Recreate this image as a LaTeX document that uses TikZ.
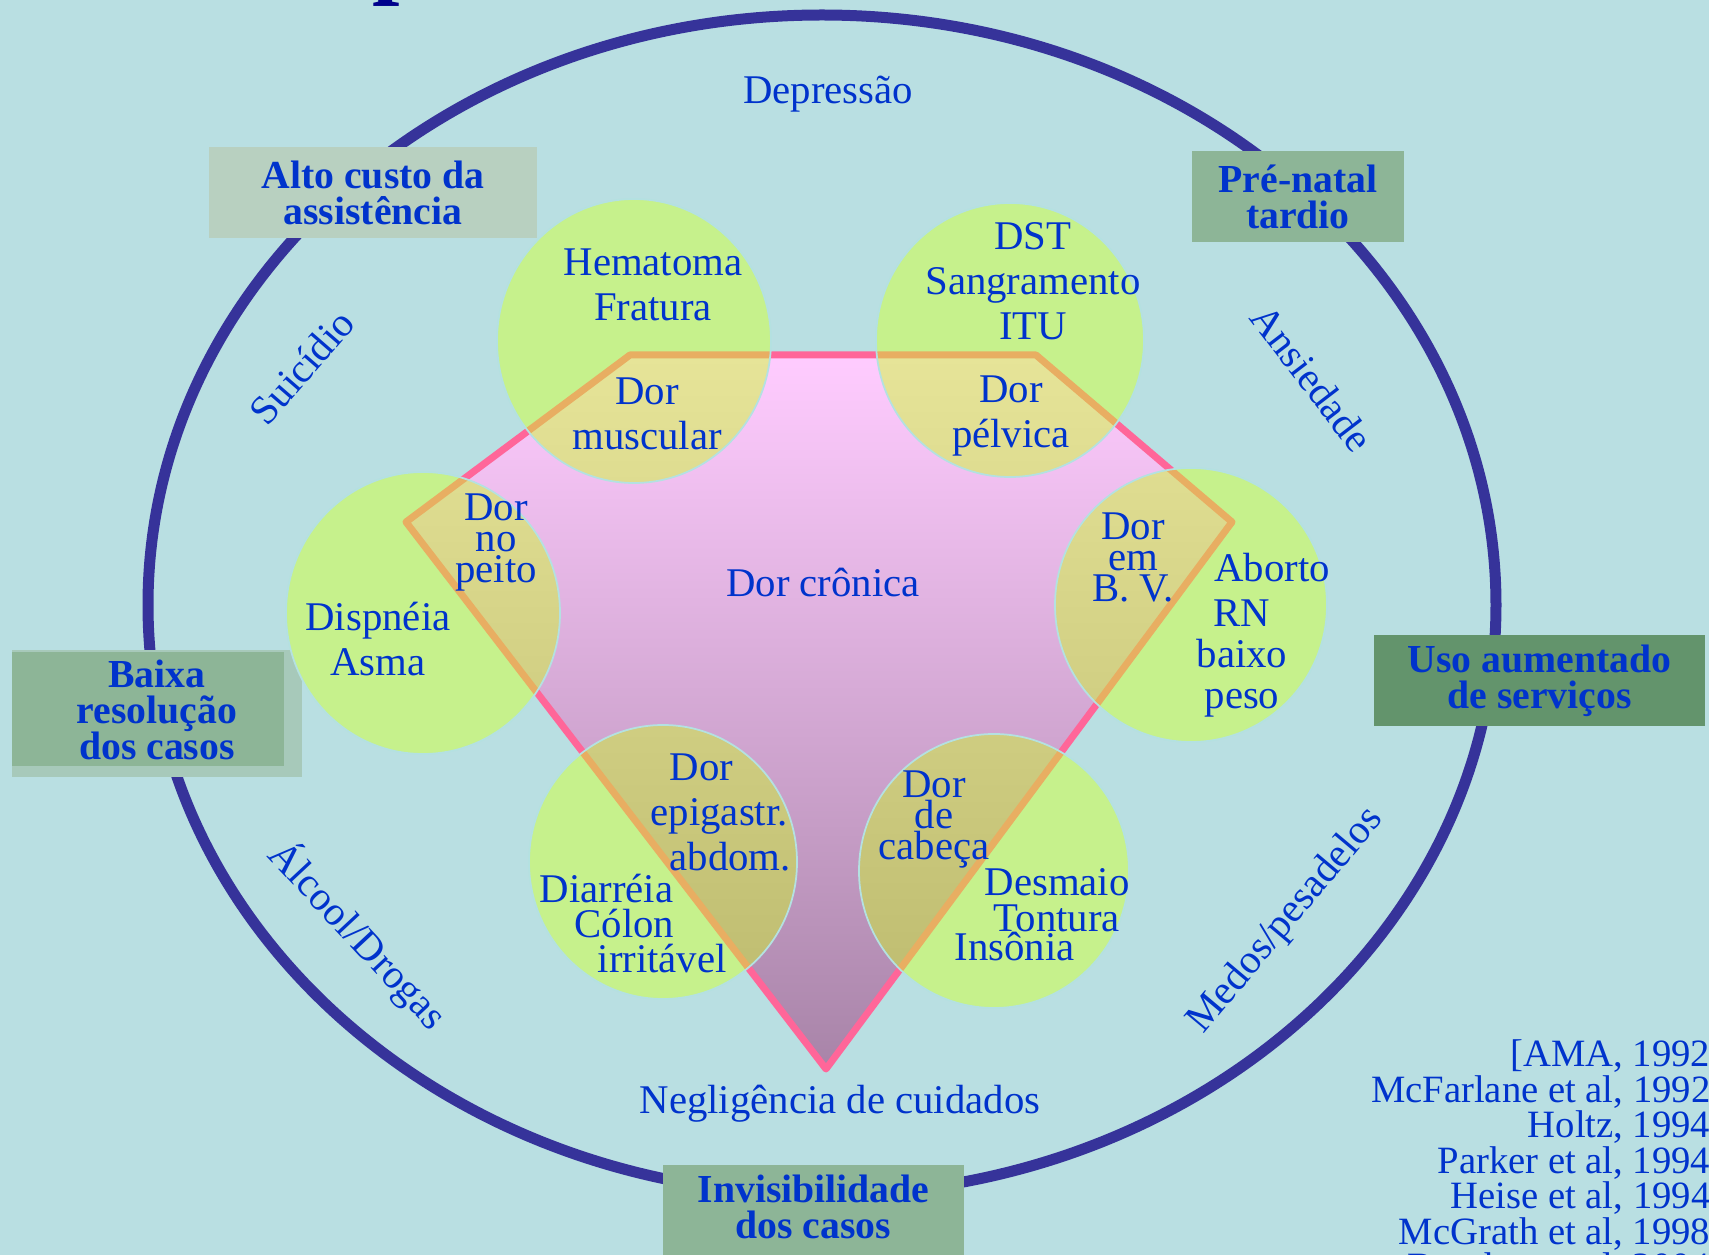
\documentclass[tikz,border=0pt]{standalone}
\usepackage{fontspec}
\setmainfont{Liberation Serif}
\definecolor{bgcyan}{RGB}{185,223,226}
\definecolor{ringblue}{RGB}{54,51,154}
\definecolor{txtblue}{RGB}{0,51,204}
\definecolor{titleblue}{RGB}{0,0,140}
\definecolor{pinktop}{RGB}{255,204,255}
\definecolor{pinkmid}{RGB}{225,182,225}
\definecolor{pinkbot}{RGB}{168,132,168}
\definecolor{pinkline}{RGB}{255,102,153}
\definecolor{leafgreen}{RGB}{198,241,140}
\definecolor{leafedge}{RGB}{180,225,225}
\definecolor{khakitop}{RGB}{230,228,152}
\definecolor{khakimid}{RGB}{212,210,135}
\definecolor{khakibot}{RGB}{186,184,108}
\definecolor{orangeline}{RGB}{232,174,98}
\definecolor{tagpale}{RGB}{184,208,192}
\definecolor{tagmid}{RGB}{141,181,151}
\definecolor{tagback}{RGB}{167,201,186}
\definecolor{tagdark}{RGB}{99,148,108}
\lineskiplimit=-10pt

\begin{document}
\begin{tikzpicture}[x=0.1mm,y=-0.1mm,
        lbl/.style={text=txtblue,inner sep=0pt,align=center,font=\fontsize{11.6}{12.8}\selectfont},
        tight/.style={font=\fontsize{11.6}{8.8}\selectfont},
        tag/.style={text=txtblue,inner sep=0pt,align=center,font=\bfseries\fontsize{11.3}{10.2}\selectfont},
        rim/.style={rotate=#1,text=txtblue,inner sep=0pt,font=\fontsize{11.6}{12.8}\selectfont}]
        \fill[bgcyan] (0,0) rectangle (1709,1255);
        \useasboundingbox (0,0) rectangle (1709,1255);
        \draw[ringblue,line width=1.1mm] (822,605) ellipse [x radius=674,y radius=590];
        % boxes on the ring
        \node[tag,fill=tagpale,minimum width=3.28cm,minimum height=0.91cm] (alto) at (373,192.5) {Alto custo da\\assistência};
        \node[tag,fill=tagmid,minimum width=2.12cm,minimum height=0.91cm] (prenatal) at (1298,196.5) {Pré-natal\\tardio};
        \fill[tagback] (12,650) rectangle (302,777);
        \fill[tagmid] (12,652) rectangle (284,766);
        \node[tag] (baixa) at (157,710) {Baixa\\resolução\\dos casos};
        \node[tag,fill=tagdark,minimum width=3.31cm,minimum height=0.91cm] (uso) at (1539.5,680.5) {Uso aumentado\\de serviços};
        \node[tag,fill=tagmid,anchor=north,minimum width=3.01cm,inner ysep=1mm] (invis) at (813.5,1164) {Invisibilidade\\dos casos\rule[-5mm]{0pt}{0pt}};
        % pentagon
        \coordinate (pa) at (630,355);
        \coordinate (pb) at (1036,355);
        \coordinate (pc) at (1232,522);
        \coordinate (pd) at (826,1069);
        \coordinate (pe) at (406,522);
        \shade[top color=pinktop,middle color=pinkmid,bottom color=pinkbot] (pa) -- (pb) -- (pc) -- (pd) -- (pe) -- cycle;
        \draw[pinkline,line width=0.7mm,line join=round] (pa) -- (pb) -- (pc) -- (pd) -- (pe) -- cycle;
        % circles
        \foreach \cx/\cy/\rx/\ry in {634/341/137/142,1010/340/134/137,423/613/137/141,1191/605/136/137,663/862/134/137,994/871/135/137}
            \fill[leafgreen] (\cx,\cy) ellipse [x radius=\rx,y radius=\ry];
        \begin{scope}
            \clip (634,341) ellipse [x radius=137,y radius=142]
                (1010,340) ellipse [x radius=134,y radius=137]
                (423,613) ellipse [x radius=137,y radius=141]
                (1191,605) ellipse [x radius=136,y radius=137]
                (663,862) ellipse [x radius=134,y radius=137]
                (994,871) ellipse [x radius=135,y radius=137];
            \shade[top color=khakitop,middle color=khakimid,bottom color=khakibot] (pa) -- (pb) -- (pc) -- (pd) -- (pe) -- cycle;
            \draw[orangeline,line width=0.7mm,line join=round] (pa) -- (pb) -- (pc) -- (pd) -- (pe) -- cycle;
        \end{scope}
        \foreach \cx/\cy/\rx/\ry in {634/341/137/142,1010/340/134/137,423/613/137/141,1191/605/136/137,663/862/134/137,994/871/135/137}
            \draw[leafedge,line width=0.5pt] (\cx,\cy) ellipse [x radius=\rx,y radius=\ry];
        % texts
        \node[lbl,anchor=base] (depressao) at (828,104) {Depressão};
        \node[lbl,anchor=north] (trauma) at (653,248) {Hematoma\\Fratura};
        \node[lbl,anchor=north] (dst) at (1033,222) {DST\\Sangramento\\ITU};
        \node[lbl,anchor=north] (muscular) at (647,377) {Dor\\muscular};
        \node[lbl,anchor=north] (pelvica) at (1011,375) {Dor\\pélvica};
        \node[lbl,tight,anchor=north] (peito) at (496,493) {Dor\\no\\peito};
        \node[lbl,anchor=north] (asma) at (378,601) {Dispnéia\\Asma};
        \node[lbl,tight,anchor=north] (bv) at (1133,512) {Dor\\em\\B. V.};
        \node[lbl,anchor=base] (aborto) at (1272,582) {Aborto};
        \node[lbl,anchor=north,font=\fontsize{11.6}{11.7}\selectfont] (rn) at (1242,599) {RN\\baixo\\peso};
        \node[lbl,anchor=base] (cronica) at (823,597) {Dor crônica};
        \node[lbl,anchor=north west,align=left] (epig) at (650,753) {\hspace*{1.9mm}Dor\\epigastr.\\\hspace*{1.9mm}abdom.};
        \node[lbl,anchor=north west,align=left,font=\fontsize{11.6}{10}\selectfont] (colon) at (539,873) {Diarréia\\\hspace*{3.5mm}Cólon\\\hspace*{5.8mm}irritável};
        \node[lbl,tight,anchor=north] (cabeca) at (934,770) {Dor\\de\\cabeça};
        \node[lbl,anchor=north west,align=left,font=\fontsize{11.6}{10.2}\selectfont] (desmaio) at (954,868) {\hspace*{3mm}Desmaio\\\hspace*{3.9mm}Tontura\\[-2pt]Insônia};
        \node[lbl,anchor=base] (neglig) at (840,1113) {Negligência de cuidados};
        \node[rim=49] (suicidio) at (302,367) {Suicídio};
        \node[rim=-52.5] (ansiedade) at (1312,378) {Ansiedade};
        \node[rim=-47] (alcool) at (358,935) {Álcool/Drogas};
        \node[rim=50] (medos) at (1286,921) {Medos/pesadelos};
        \node[lbl,anchor=north east,align=right,font=\fontsize{11}{10.1}\selectfont] (refs) at (1711,1039) {[AMA, 1992\\McFarlane et al, 1992\\Holtz, 1994\\Parker et al, 1994\\Heise et al, 1994\\McGrath et al, 1998\\Bacchus et al, 2004};
        \node[anchor=base west,inner sep=0pt,text=titleblue,font=\bfseries\fontsize{28}{28}\selectfont] (titulo) at (372,-14) {p};
    \end{tikzpicture}
\end{document}
